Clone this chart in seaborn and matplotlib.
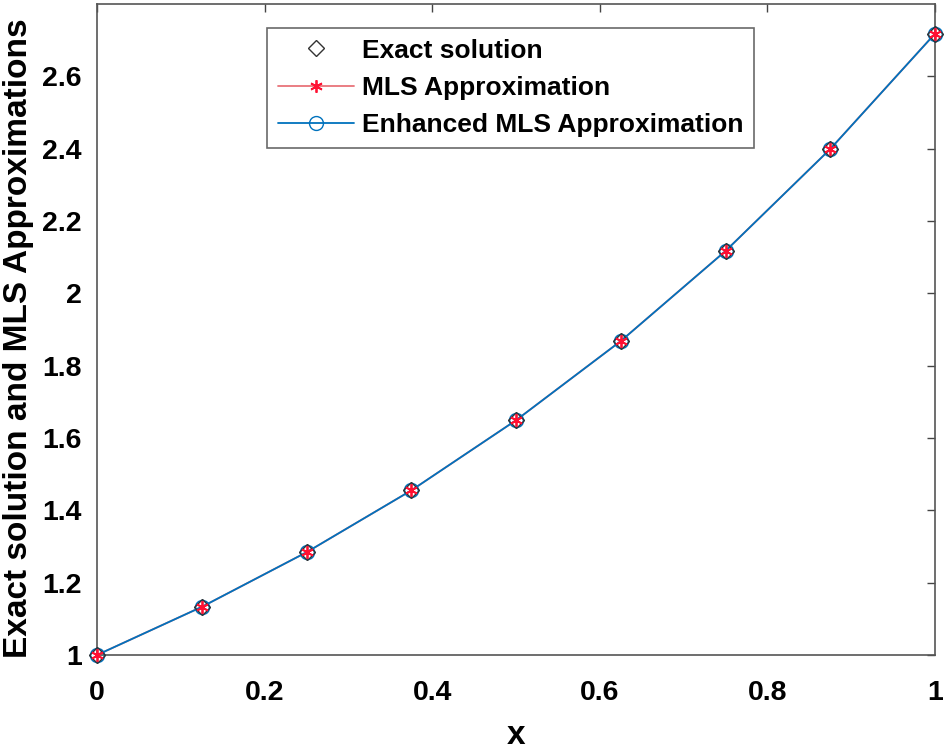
import numpy as np
import pandas as pd
import matplotlib
matplotlib.use("Agg")
import matplotlib.pyplot as plt
import seaborn as sns
from matplotlib.lines import Line2D

# Data
x_nodes = [0.0, 0.125, 0.25, 0.375, 0.5, 0.625, 0.75, 0.875, 1.0]
exact_vals = [1.000, 1.133, 1.284, 1.455, 1.649, 1.868, 2.117, 2.399, 2.718]
mls_vals = [1.000, 1.133, 1.284, 1.455, 1.649, 1.868, 2.117, 2.399, 2.718]
emls_vals = [1.000, 1.133, 1.284, 1.455, 1.649, 1.868, 2.117, 2.399, 2.718]
series_names = ["Exact solution", "MLS Approximation", "Enhanced MLS Approximation"]
x_ticks = [0, 0.2, 0.4, 0.6, 0.8, 1]
y_ticks = [1, 1.2, 1.4, 1.6, 1.8, 2, 2.2, 2.4, 2.6]

sns.set_theme(style="white")
plt.rcParams['font.family'] = ['Liberation Sans', 'DejaVu Sans']
plt.rcParams['font.weight'] = 'bold'
plt.rcParams['text.color'] = 'black'
plt.rcParams['axes.labelcolor'] = 'black'
plt.rcParams['xtick.labelcolor'] = 'black'
plt.rcParams['ytick.labelcolor'] = 'black'

df = pd.DataFrame({"x": x_nodes, "exact": exact_vals, "mls": mls_vals, "emls": emls_vals})

fig = plt.figure(figsize=(9.44, 7.5), dpi=100)
ax = fig.add_axes([97/944, 1 - 655/750, (935 - 97)/944, (655 - 4)/750])

red_line = "#e8737a"
blue = "#0072BD"
asterisk = (6, 2, 0)

# MLS approximation (red line, red asterisks)
sns.lineplot(data=df, x="x", y="mls", ax=ax, color=red_line, linewidth=1.3, zorder=2)
# Enhanced MLS (blue line, open circles)
sns.lineplot(data=df, x="x", y="emls", ax=ax, color=blue, linewidth=1.3, zorder=3)
ax.plot(df["x"], df["emls"], linestyle="none", marker="o", markersize=10, clip_on=False,
        markerfacecolor="none", markeredgecolor=blue, markeredgewidth=1.2, zorder=4)
# Exact solution (black open diamonds)
ax.plot(df["x"], df["exact"], linestyle="none", marker="D", markersize=8, clip_on=False,
        markerfacecolor="none", markeredgecolor="#333333", markeredgewidth=1.0, zorder=5)
ax.plot(df["x"], df["mls"], linestyle="none", marker=asterisk, markersize=9, clip_on=False,
        markeredgecolor="#ff1133", markerfacecolor="#ff1133", markeredgewidth=1.3, zorder=6)

ax.set_xlim(0, 1)
ax.set_ylim(1, 2.8)
ax.set_xticks(x_ticks)
ax.set_xticklabels([f"{v:g}" for v in x_ticks])
ax.set_yticks(y_ticks)
ax.set_yticklabels([f"{v:g}" for v in y_ticks])
ax.tick_params(axis="both", which="both", direction="in", length=6, width=1,
               color="#444444", labelsize=20.5, top=True, right=True)
ax.tick_params(axis="x", pad=18)
ax.tick_params(axis="y", pad=11)
for lbl in ax.get_xticklabels() + ax.get_yticklabels():
    lbl.set_fontweight("bold")
for sp in ax.spines.values():
    sp.set_color("#555555")
    sp.set_linewidth(1.2)

ax.set_xlabel("x", fontsize=24, fontweight="bold")
ax.xaxis.label.set_verticalalignment("baseline")
ax.xaxis.set_label_coords(0.5, -(744 - 655) / 651)
ax.set_ylabel("Exact solution and MLS Approximations", fontsize=24, fontweight="bold")
ax.yaxis.set_label_coords(-(97 - 3) / 838, 1 - (338 - 4) / 651)
ax.yaxis.label.set_verticalalignment("top")

handles = [
    Line2D([], [], linestyle="none", marker="D", markersize=8, markerfacecolor="none",
           markeredgecolor="#333333"),
    Line2D([], [], color=red_line, linewidth=1.3, marker=asterisk, markersize=9,
           markeredgecolor="#ff1133", markeredgewidth=1.3),
    Line2D([], [], color=blue, linewidth=1.3, marker="o", markersize=10,
           markerfacecolor="none", markeredgecolor=blue),
]
leg = ax.legend(handles, series_names, loc="upper left", bbox_to_anchor=((267-97)/838, 1 - (28-4)/651),
                prop={"size": 19, "weight": "bold"}, frameon=True, fancybox=False,
                edgecolor="#444444", handlelength=2.9, borderpad=0.4, labelspacing=0.5,
                handletextpad=0.3, borderaxespad=0)
leg.get_frame().set_linewidth(1.2)

fig.savefig("out.png", dpi=100)
